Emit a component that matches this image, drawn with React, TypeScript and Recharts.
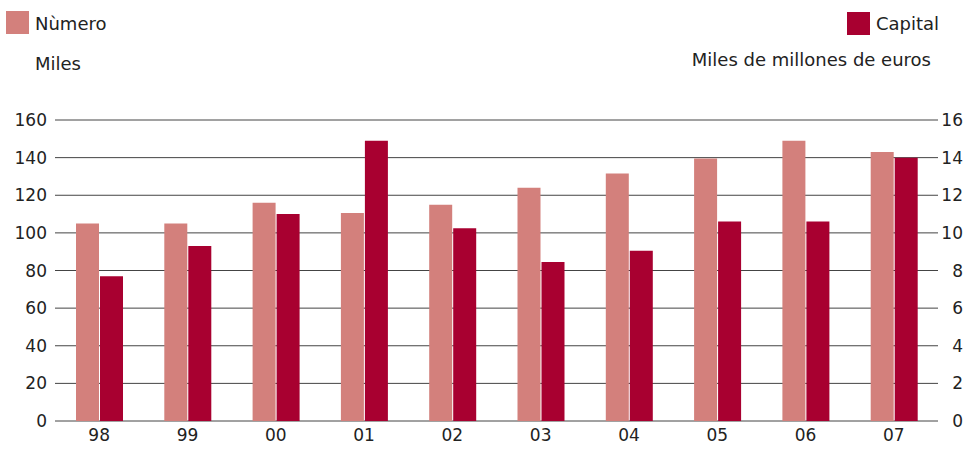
import { BarChart, Bar, XAxis, YAxis, CartesianGrid } from "recharts";

const years = ["98", "99", "00", "01", "02", "03", "04", "05", "06", "07"];
const numero = [105, 105, 116, 110.5, 115, 124, 131.5, 139.5, 149, 143];
const capital = [7.7, 9.3, 11.0, 14.9, 10.25, 8.45, 9.05, 10.6, 10.6, 14.0];
const leftTicks = [0, 20, 40, 60, 80, 100, 120, 140, 160];
const rightTicks = [0, 2, 4, 6, 8, 10, 12, 14, 16];

const data = years.map((y, i) => ({ year: y, numero: numero[i], capital: capital[i] }));

const FONT = "'DejaVu Sans', sans-serif";
const TXT = "#222";
const C_NUM = "#d3807c";
const C_CAP = "#a80030";

const RightTick = (props: any) => (
  <text x={963} y={props.y} dy="0.355em" textAnchor="end" fill={TXT} fontSize={17} fontFamily={FONT}>
    {props.payload.value}
  </text>
);

export default function App() {
  return (
    <div style={{ position: "absolute", left: 0, top: 0, width: 968, height: 450, fontFamily: FONT, color: TXT, background: "#fff" }}>
      <div style={{ position: "absolute", left: 6, top: 11, width: 23, height: 23, background: C_NUM }} />
      <div style={{ position: "absolute", left: 35, top: 13, fontSize: 18 }}>Nùmero</div>
      <div style={{ position: "absolute", left: 35, top: 53, fontSize: 18 }}>Miles</div>
      <div style={{ position: "absolute", left: 847, top: 12, width: 23, height: 23, background: C_CAP }} />
      <div style={{ position: "absolute", left: 876, top: 13, fontSize: 18 }}>Capital</div>
      <div style={{ position: "absolute", right: 37, top: 49, fontSize: 18 }}>Miles de millones de euros</div>
      <div style={{ position: "absolute", left: 0, top: 0 }}>
        <BarChart width={968} height={450} data={data} margin={{ top: 120, right: 0, left: 0, bottom: 0 }} barSize={23} barGap={1}>
          <CartesianGrid vertical={false} stroke="#444" yAxisId="left" />
          <XAxis dataKey="year" axisLine={false} tickLine={false} height={29} tick={{ fill: TXT, fontSize: 17, fontFamily: FONT }} />
          <YAxis yAxisId="left" domain={[0, 160]} ticks={leftTicks} width={55} axisLine={false} tickLine={false}
            tick={{ fill: TXT, fontSize: 17, fontFamily: FONT }} />
          <YAxis yAxisId="right" orientation="right" domain={[0, 16]} ticks={rightTicks} width={30} axisLine={false} tickLine={false}
            tick={RightTick} />
          <Bar yAxisId="left" dataKey="numero" fill={C_NUM} isAnimationActive={false} />
          <Bar yAxisId="right" dataKey="capital" fill={C_CAP} isAnimationActive={false} />
        </BarChart>
      </div>
    </div>
  );
}
